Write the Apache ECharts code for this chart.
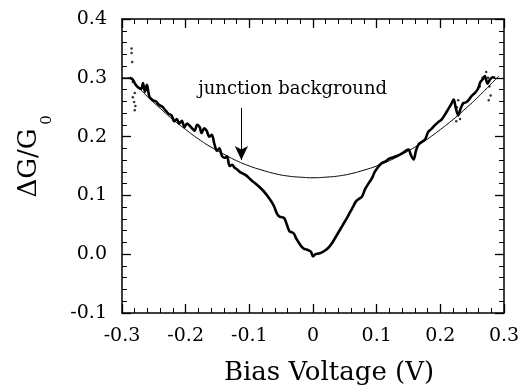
<!DOCTYPE html>
<html>
<head>
<meta charset="utf-8">
<script src="https://cdn.jsdelivr.net/npm/echarts@6/dist/echarts.min.js"></script>
<style>
  html, body { margin: 0; padding: 0; background: #fff; }
  #chart { width: 526px; height: 392px; }
</style>
</head>
<body>
<div id="chart"></div>
<script>
// tick labels
var xTickLabels = ['-0.3', '-0.2', '-0.1', '0', '0.1', '0.2', '0.3'];
var yTickLabels = ['-0.1', '0.0', '0.1', '0.2', '0.3', '0.4'];

// junction background (thin curve), [bias, dG/G0]
var background = [
  [-0.300, 0.300], [-0.289, 0.300], [-0.280, 0.290], [-0.260, 0.268], [-0.240, 0.248],
  [-0.220, 0.229], [-0.200, 0.212], [-0.180, 0.196], [-0.160, 0.182], [-0.140, 0.170],
  [-0.120, 0.159], [-0.100, 0.150], [-0.080, 0.143], [-0.060, 0.137], [-0.040, 0.133],
  [-0.020, 0.131], [0.000, 0.130], [0.020, 0.131], [0.040, 0.133], [0.060, 0.137],
  [0.080, 0.143], [0.100, 0.150], [0.120, 0.159], [0.140, 0.170], [0.160, 0.182],
  [0.180, 0.196], [0.200, 0.212], [0.220, 0.229], [0.240, 0.248], [0.260, 0.268],
  [0.280, 0.290], [0.292, 0.303]
];

// measured conductance (thick curve)
var measured = [
  [-0.288, 0.300], [-0.283, 0.297], [-0.279, 0.289], [-0.275, 0.284], [-0.270, 0.281],
  [-0.267, 0.291], [-0.264, 0.276], [-0.261, 0.288], [-0.257, 0.268], [-0.252, 0.262],
  [-0.247, 0.260], [-0.242, 0.254], [-0.237, 0.251], [-0.232, 0.245], [-0.227, 0.239],
  [-0.222, 0.236], [-0.218, 0.226], [-0.214, 0.230], [-0.210, 0.222], [-0.206, 0.227],
  [-0.202, 0.216], [-0.198, 0.222], [-0.194, 0.219], [-0.190, 0.214], [-0.186, 0.210],
  [-0.182, 0.220], [-0.178, 0.216], [-0.175, 0.206], [-0.171, 0.214], [-0.167, 0.210],
  [-0.163, 0.200], [-0.159, 0.203], [-0.155, 0.188], [-0.151, 0.176], [-0.147, 0.180],
  [-0.143, 0.167], [-0.139, 0.164], [-0.135, 0.166], [-0.131, 0.150], [-0.127, 0.152],
  [-0.123, 0.147], [-0.119, 0.144], [-0.115, 0.140], [-0.110, 0.137], [-0.105, 0.134],
  [-0.100, 0.129], [-0.095, 0.124], [-0.090, 0.120], [-0.085, 0.115], [-0.080, 0.110],
  [-0.075, 0.104], [-0.070, 0.097], [-0.065, 0.089], [-0.061, 0.081], [-0.057, 0.070],
  [-0.053, 0.064], [-0.049, 0.063], [-0.045, 0.061], [-0.041, 0.050], [-0.037, 0.039],
  [-0.033, 0.037], [-0.030, 0.035], [-0.026, 0.026], [-0.022, 0.019], [-0.018, 0.013],
  [-0.014, 0.009], [-0.010, 0.008], [-0.006, 0.006], [-0.003, 0.004], [0.000, -0.004],
  [0.004, 0.000], [0.009, 0.001], [0.014, 0.003], [0.020, 0.007], [0.025, 0.012],
  [0.030, 0.019], [0.035, 0.028], [0.041, 0.039], [0.047, 0.050], [0.053, 0.061],
  [0.058, 0.071], [0.063, 0.081], [0.067, 0.089], [0.072, 0.094], [0.077, 0.098],
  [0.082, 0.111], [0.087, 0.120], [0.092, 0.128], [0.097, 0.140], [0.102, 0.148],
  [0.106, 0.153], [0.110, 0.156], [0.114, 0.158], [0.119, 0.162], [0.124, 0.164],
  [0.129, 0.166], [0.134, 0.168], [0.139, 0.171], [0.142, 0.173], [0.146, 0.176],
  [0.150, 0.178], [0.154, 0.168], [0.158, 0.161], [0.162, 0.177], [0.166, 0.187],
  [0.171, 0.191], [0.176, 0.195], [0.181, 0.208], [0.186, 0.213], [0.192, 0.220],
  [0.197, 0.225], [0.202, 0.229], [0.207, 0.237], [0.212, 0.246], [0.217, 0.255],
  [0.221, 0.263], [0.224, 0.250], [0.228, 0.236], [0.232, 0.248], [0.236, 0.257],
  [0.240, 0.258], [0.245, 0.263], [0.249, 0.269], [0.254, 0.274], [0.259, 0.281],
  [0.263, 0.293], [0.267, 0.298], [0.270, 0.303], [0.274, 0.290], [0.278, 0.297],
  [0.282, 0.301], [0.286, 0.300]
];

// scattered noisy points near the ends
var noiseDots = [
  [-0.285, 0.350], [-0.285, 0.342], [-0.284, 0.327], [-0.283, 0.293], [-0.280, 0.274],
  [-0.283, 0.267], [-0.281, 0.259], [-0.280, 0.245], [-0.279, 0.252],
  [0.272, 0.310], [0.275, 0.300], [0.277, 0.285], [0.279, 0.270], [0.276, 0.262],
  [0.228, 0.262], [0.226, 0.250], [0.229, 0.240], [0.231, 0.230], [0.225, 0.226],
  [0.262, 0.285], [0.266, 0.300]
];

// annotation
var arrowFrom = [-0.1125, 0.249];
var arrowTo = [-0.1125, 0.160];
var labelAt = [-0.032, 0.281];

var serif = 'DejaVu Serif';

function xLab(v) {
  var i = Math.round((v + 0.3) * 10);
  return xTickLabels[i] || '';
}
function yLab(v) {
  var i = Math.round((v + 0.1) * 10);
  return yTickLabels[i] || '';
}

var axisLine = { onZero: false, lineStyle: { color: '#000', width: 1.5 } };
var tick = { inside: true, length: 9, lineStyle: { color: '#000', width: 1.3 } };
var minor = { show: true, splitNumber: 5, length: 5, lineStyle: { color: '#000', width: 1 } };

var chart = echarts.init(document.getElementById('chart'));

chart.setOption({
  backgroundColor: '#fff',
  animation: false,
  grid: { left: 122, right: 22, top: 19, bottom: 79 },
  xAxis: [{
    type: 'value', min: -0.3, max: 0.3, interval: 0.1,
    axisLine: axisLine, axisTick: tick, minorTick: minor,
    splitLine: { show: false },
    axisLabel: { formatter: xLab, margin: 14, color: '#000', fontFamily: serif, fontSize: 19 }
  }, {
    type: 'value', position: 'top', min: -0.3, max: 0.3, interval: 0.1,
    axisLine: axisLine, axisTick: tick, minorTick: minor,
    splitLine: { show: false }, axisLabel: { show: false }
  }],
  yAxis: [{
    type: 'value', min: -0.1, max: 0.4, interval: 0.1,
    axisLine: axisLine, axisTick: tick, minorTick: minor,
    splitLine: { show: false },
    axisLabel: { formatter: yLab, margin: 15, color: '#000', fontFamily: serif, fontSize: 19 }
  }, {
    type: 'value', position: 'right', min: -0.1, max: 0.4, interval: 0.1,
    axisLine: axisLine, axisTick: tick, minorTick: minor,
    splitLine: { show: false }, axisLabel: { show: false }
  }],
  series: [{
    name: 'junction background',
    type: 'line',
    data: background,
    smooth: true,
    showSymbol: false,
    lineStyle: { color: '#000', width: 1 },
    markPoint: {
      symbol: 'circle', symbolSize: 0,
      label: {
        show: true, position: 'inside', formatter: 'junction background',
        color: '#000', fontFamily: serif, fontSize: 18
      },
      data: [{ coord: labelAt }]
    },
    markLine: {
      silent: true,
      symbol: ['none', 'arrow'],
      symbolSize: [10, 14],
      label: { show: false },
      lineStyle: { color: '#000', width: 1, type: 'solid' },
      data: [[{ coord: arrowFrom }, { coord: arrowTo }]]
    }
  }, {
    name: 'measured',
    type: 'line',
    data: measured,
    smooth: 0.3,
    showSymbol: false,
    lineStyle: { color: '#000', width: 2.6 }
  }, {
    name: 'noise',
    type: 'scatter',
    data: noiseDots,
    symbolSize: 2.5,
    itemStyle: { color: '#000' }
  }],
  graphic: [{
    type: 'text', x: 329, y: 373,
    style: {
      text: 'Bias Voltage (V)', fill: '#000', font: '26px "DejaVu Serif"',
      textAlign: 'center', textVerticalAlign: 'middle'
    }
  }, {
    type: 'text', x: 29, y: 163, rotation: Math.PI / 2,
    style: {
      text: 'ΔG/G', fill: '#000', font: '26px "DejaVu Serif"',
      textAlign: 'center', textVerticalAlign: 'middle'
    }
  }, {
    type: 'text', x: 47, y: 120, rotation: Math.PI / 2,
    style: {
      text: '0', fill: '#000', font: '15px "DejaVu Serif"',
      textAlign: 'center', textVerticalAlign: 'middle'
    }
  }]
});
</script>
</body>
</html>
